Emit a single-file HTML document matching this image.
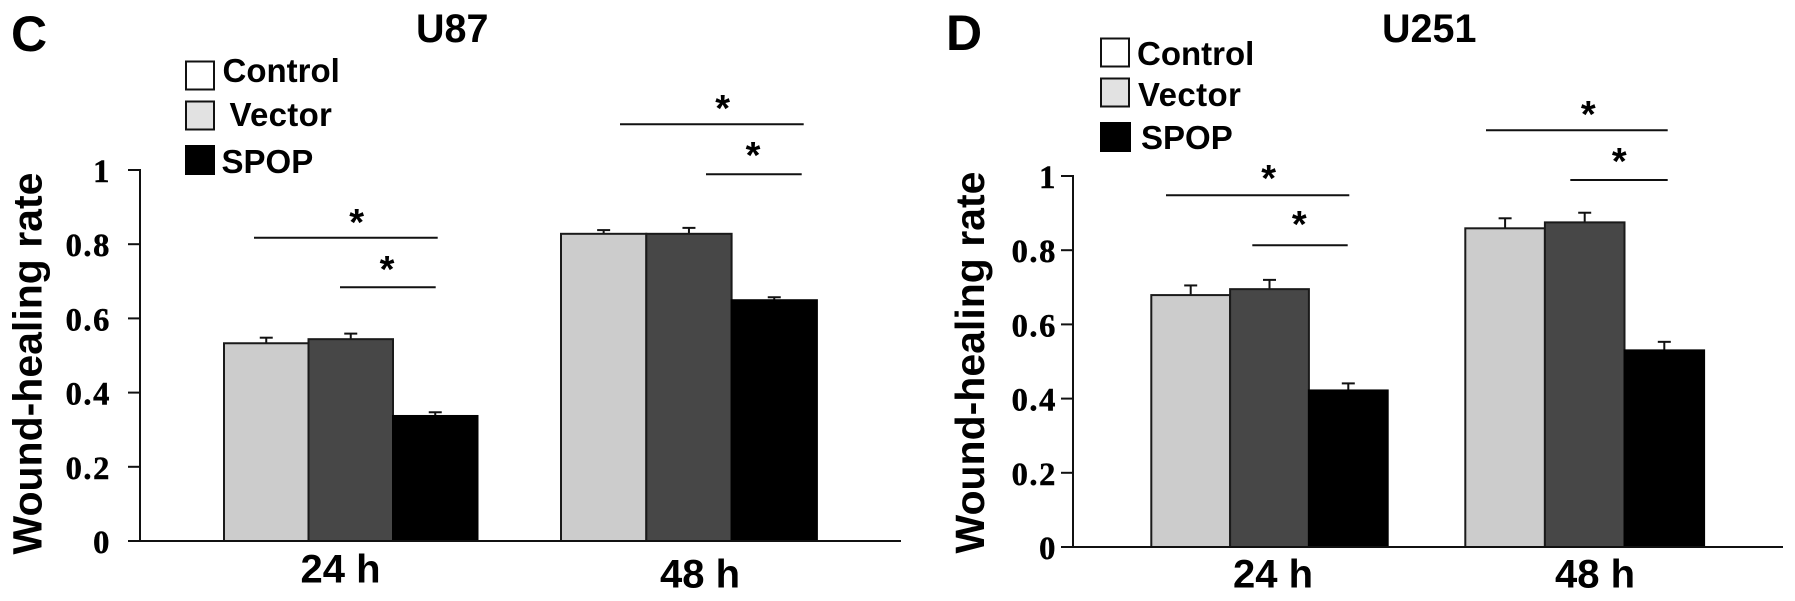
<!DOCTYPE html>
<html>
<head>
<meta charset="utf-8">
<title>Wound-healing rate U87 and U251</title>
<style>
html,body{margin:0;padding:0;background:#fff;}
svg{display:block;}
text{font-family:"Liberation Sans",sans-serif;font-weight:bold;fill:#000;}
.tick{font-family:"Liberation Serif",serif;font-size:32.5px;letter-spacing:1.6px;text-anchor:end;stroke:#000;stroke-width:0.5px;}
.legend{font-size:33px;}
.title{font-size:39.5px;}
.letter{font-size:50px;}
.xlab{font-size:40px;}
.ylab{font-size:41px;}
.star{font-size:38px;text-anchor:middle;}
</style>
</head>
<body>
<svg id="figure" width="1795" height="601" viewBox="0 0 1795 601" xmlns="http://www.w3.org/2000/svg">
<rect width="1795" height="601" fill="#fff"/>

<text class="letter" x="11" y="51">C</text>
<text class="title" x="416" y="42">U87</text>

<g>
<rect x="186" y="61.5" width="28" height="28" fill="#fff" stroke="#111" stroke-width="2"/>
<text class="legend" x="222.5" y="82">Control</text>
<rect x="186" y="101.5" width="28" height="28" fill="#e2e2e2" stroke="#111" stroke-width="2"/>
<text class="legend" x="229.5" y="126" letter-spacing="0.3">Vector</text>
<rect x="185" y="145" width="30" height="30" fill="#000"/>
<text class="legend" x="221.5" y="173">SPOP</text>
</g>

<g stroke="#111" stroke-width="2">
<line x1="254" y1="237.7" x2="437.7" y2="237.7"/>
<line x1="340" y1="287.3" x2="435.7" y2="287.3"/>
<line x1="620" y1="124.3" x2="803.7" y2="124.3"/>
<line x1="706" y1="174.3" x2="801.7" y2="174.3"/>
</g>
<text class="star" x="356.7" y="235">*</text>
<text class="star" x="387" y="282">*</text>
<text class="star" x="722.7" y="121">*</text>
<text class="star" x="753" y="168">*</text>

<text class="ylab" transform="translate(41.7,554.5) rotate(-90)">Wound-healing rate</text>

<text class="letter" x="946" y="50">D</text>
<text class="title" x="1382" y="42">U251</text>

<g>
<rect x="1101" y="38.5" width="28" height="28" fill="#fff" stroke="#111" stroke-width="2"/>
<text class="legend" x="1137" y="65">Control</text>
<rect x="1101" y="78.5" width="28" height="28" fill="#e2e2e2" stroke="#111" stroke-width="2"/>
<text class="legend" x="1138" y="106" letter-spacing="0.4">Vector</text>
<rect x="1100" y="122" width="31" height="30" fill="#000"/>
<text class="legend" x="1141" y="149">SPOP</text>
</g>

<g stroke="#111" stroke-width="2">
<line x1="1166" y1="195.3" x2="1349.3" y2="195.3"/>
<line x1="1252.3" y1="245.3" x2="1347.7" y2="245.3"/>
<line x1="1486" y1="130.3" x2="1667.7" y2="130.3"/>
<line x1="1570.3" y1="180" x2="1667.7" y2="180"/>
</g>
<text class="star" x="1268.7" y="191">*</text>
<text class="star" x="1299.3" y="237">*</text>
<text class="star" x="1588.3" y="127">*</text>
<text class="star" x="1619.3" y="174">*</text>

<text class="ylab" transform="translate(984,553.5) rotate(-90)">Wound-healing rate</text>

<g id="plots"></g>
</svg>

<script>
const categories = ['24 h', '48 h'];
const seriesNames = ['control', 'vector', 'spop'];
const tickValues = [0, 0.2, 0.4, 0.6, 0.8, 1];
const tickLabels = ['0', '0.2', '0.4', '0.6', '0.8', '1'];

const u87Control = [0.533, 0.828];
const u87Vector = [0.544, 0.828];
const u87Spop = [0.337, 0.649];
const u87ControlErr = [0.015, 0.010];
const u87VectorErr = [0.015, 0.016];
const u87SpopErr = [0.010, 0.008];

const u251Control = [0.679, 0.859];
const u251Vector = [0.695, 0.875];
const u251Spop = [0.422, 0.530];
const u251ControlErr = [0.026, 0.027];
const u251VectorErr = [0.025, 0.026];
const u251SpopErr = [0.019, 0.023];

const barFills = ['#cccccc', '#474747', '#000000'];
const NS = 'http://www.w3.org/2000/svg';
const root = document.getElementById('plots');

function make(tag, attrs, parent) {
  const el = document.createElementNS(NS, tag);
  for (const k in attrs) el.setAttribute(k, attrs[k]);
  parent.appendChild(el);
  return el;
}

function drawPanel(p) {
  const g = make('g', {}, root);
  
  
  const y = v => p.y0 - v * (p.y0 - p.y1);
  const width = group => p.barW + group * p.barGrow;
  const x = (group, s) => p.groupStart + group * p.groupStep + s * width(group);

  p.series.forEach((vals, s) => {
    vals.forEach((v, i) => {
      const cx = x(i, s) + width(i) / 2;
      const top = y(v + p.errors[s][i]);
      const stem = make('line', {x1: cx, x2: cx, y1: y(v), y2: top, stroke: '#111', 'stroke-width': 2}, g);
      
      
      const cap = make('line', {x1: cx - 6.5, x2: cx + 6.5, y1: top, y2: top, stroke: '#111', 'stroke-width': 2}, g);
      
      
    });
  });
  p.series.forEach((vals, s) => {
    vals.forEach((v, i) => {
      const bar = make('rect', {
        x: x(i, s), y: y(v), width: width(i), height: p.y0 - y(v),
        fill: barFills[s], stroke: s === 2 ? '#000' : '#1a1a1a', 'stroke-width': 2
      }, g);
      
      
    });
  });

  const yAxis = make('line', {x1: p.axisX, x2: p.axisX, y1: y(1) - 1, y2: p.y0, stroke: '#111', 'stroke-width': 2}, g);
  
  
  const xAxis = make('line', {x1: p.axisX - 12, x2: p.axisEnd, y1: p.y0, y2: p.y0, stroke: '#111', 'stroke-width': 2}, g);
  
  

  tickValues.forEach((v, i) => {
    const tick = make('line', {x1: p.axisX - 12, x2: p.axisX, y1: y(v), y2: y(v), stroke: '#111', 'stroke-width': 2}, g);
    
    
    const label = make('text', {class: 'tick', x: p.axisX - p.labelGap, y: y(v) + 12}, g);
    
    
    label.textContent = tickLabels[i];
  });

  categories.forEach((c, i) => {
    const label = make('text', {class: 'xlab', x: p.labelX[i], y: p.labelY[i]}, g);
    
    
    label.textContent = c;
  });
}

drawPanel({
  name: 'u87', axisX: 140, axisEnd: 901, y0: 541, y1: 170,
  groupStart: 224, groupStep: 337, barW: 84.5, barGrow: 0.8, labelGap: 29,
  labelX: [300.5, 660], labelY: [582.7, 587.7],
  series: [u87Control, u87Vector, u87Spop],
  errors: [u87ControlErr, u87VectorErr, u87SpopErr]
});
drawPanel({
  name: 'u251', axisX: 1073, axisEnd: 1783, y0: 547, y1: 176,
  groupStart: 1151.3, groupStep: 314, barW: 78.8, barGrow: 0.8, labelGap: 16,
  labelX: [1233, 1555], labelY: [587.3, 587.7],
  series: [u251Control, u251Vector, u251Spop],
  errors: [u251ControlErr, u251VectorErr, u251SpopErr]
});
</script>
</body>
</html>
